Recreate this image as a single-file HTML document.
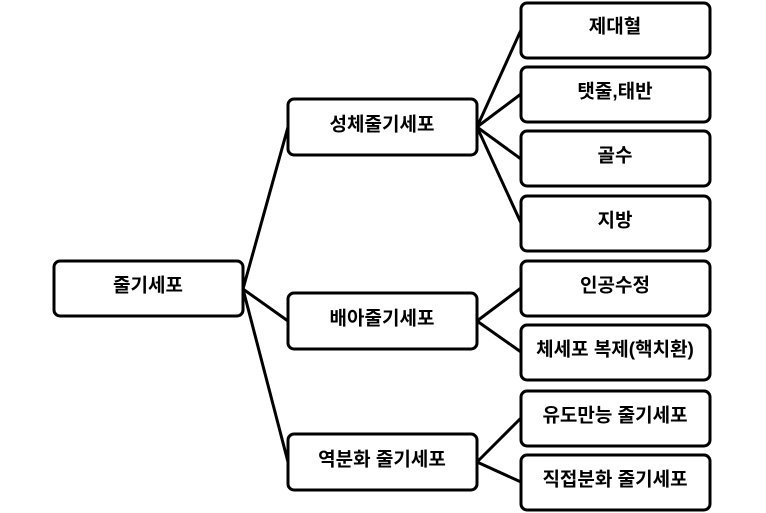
<!DOCTYPE html>
<html><head><meta charset="utf-8"><style>
html,body{margin:0;padding:0;background:#fff;}
svg{display:block}
text{font-family:"Liberation Sans","Noto Sans CJK KR","NanumGothic",sans-serif;font-weight:bold;font-size:19px;text-anchor:middle;dominant-baseline:central;fill:#000}
</style></head><body>
<svg width="766" height="513" viewBox="0 0 766 513">
<g stroke="#000" stroke-width="3" fill="none">
<line x1="243" y1="289" x2="288" y2="127"/>
<line x1="243" y1="289" x2="288" y2="321"/>
<line x1="243" y1="289" x2="288" y2="462"/>
<line x1="477" y1="127" x2="521" y2="30"/>
<line x1="477" y1="127" x2="521" y2="94"/>
<line x1="477" y1="127" x2="521" y2="159"/>
<line x1="477" y1="127" x2="521" y2="223"/>
<line x1="477" y1="321" x2="521" y2="288"/>
<line x1="477" y1="321" x2="521" y2="352"/>
<line x1="477" y1="462" x2="521" y2="418"/>
<line x1="477" y1="462" x2="521" y2="482"/>
<rect x="54" y="261" width="189" height="55" rx="6" fill="#fff"/>
<rect x="288" y="99" width="189" height="56" rx="6" fill="#fff"/>
<rect x="288" y="293" width="189" height="56" rx="6" fill="#fff"/>
<rect x="288" y="434" width="189" height="56" rx="6" fill="#fff"/>
<rect x="521" y="3" width="189" height="55" rx="6" fill="#fff"/>
<rect x="521" y="67" width="189" height="55" rx="6" fill="#fff"/>
<rect x="521" y="131" width="189" height="55" rx="6" fill="#fff"/>
<rect x="521" y="196" width="189" height="55" rx="6" fill="#fff"/>
<rect x="521" y="261" width="189" height="55" rx="6" fill="#fff"/>
<rect x="521" y="325" width="189" height="55" rx="6" fill="#fff"/>
<rect x="521" y="391" width="189" height="55" rx="6" fill="#fff"/>
<rect x="521" y="455" width="189" height="55" rx="6" fill="#fff"/>
</g>
<text x="148" y="286">줄기세포</text>
<text x="382" y="125">성체줄기세포</text>
<text x="382" y="319">배아줄기세포</text>
<text x="382" y="460">역분화 줄기세포</text>
<text x="615" y="27">제대혈</text>
<text x="615" y="92">탯줄,태반</text>
<text x="615" y="156">골수</text>
<text x="615" y="221">지방</text>
<text x="615" y="286">인공수정</text>
<text x="615" y="350">체세포 복제(핵치환)</text>
<text x="615" y="416">유도만능 줄기세포</text>
<text x="615" y="480">직접분화 줄기세포</text>
</svg>
</body></html>
